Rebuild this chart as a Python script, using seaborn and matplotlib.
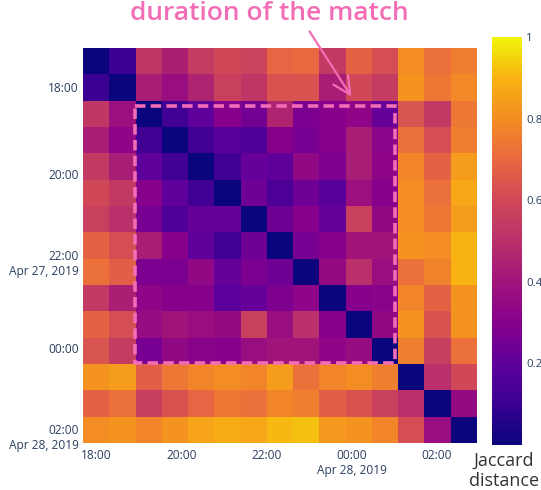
import numpy as np
import pandas as pd
import matplotlib
matplotlib.use("Agg")
import matplotlib.pyplot as plt
import seaborn as sns
from matplotlib.colors import LinearSegmentedColormap
from matplotlib.patches import Rectangle, FancyArrowPatch

# ---------------- data ----------------
x_times = ["2019-04-27 17:59", "2019-04-27 18:37", "2019-04-27 19:14", "2019-04-27 19:51",
           "2019-04-27 20:28", "2019-04-27 21:05", "2019-04-27 21:42", "2019-04-27 22:19",
           "2019-04-27 22:56", "2019-04-27 23:33", "2019-04-28 00:10", "2019-04-28 00:47",
           "2019-04-28 01:24", "2019-04-28 02:01", "2019-04-28 02:38"]
y_times = ["2019-04-27 17:25", "2019-04-27 18:01", "2019-04-27 18:37", "2019-04-27 19:14",
           "2019-04-27 19:50", "2019-04-27 20:26", "2019-04-27 21:02", "2019-04-27 21:39",
           "2019-04-27 22:15", "2019-04-27 22:51", "2019-04-27 23:27", "2019-04-28 00:04",
           "2019-04-28 00:40", "2019-04-28 01:16", "2019-04-28 01:52"]

distance = [
    [0.00, 0.10, 0.52, 0.44, 0.55, 0.60, 0.58, 0.69, 0.70, 0.54, 0.68, 0.62, 0.80, 0.72, 0.76],
    [0.10, 0.00, 0.43, 0.37, 0.46, 0.57, 0.52, 0.63, 0.63, 0.43, 0.60, 0.55, 0.82, 0.74, 0.79],
    [0.53, 0.38, 0.00, 0.12, 0.20, 0.30, 0.25, 0.46, 0.27, 0.30, 0.33, 0.22, 0.64, 0.54, 0.74],
    [0.43, 0.33, 0.12, 0.00, 0.12, 0.18, 0.16, 0.30, 0.26, 0.30, 0.43, 0.32, 0.72, 0.62, 0.76],
    [0.54, 0.43, 0.20, 0.12, 0.00, 0.12, 0.22, 0.20, 0.34, 0.28, 0.43, 0.33, 0.78, 0.68, 0.84],
    [0.60, 0.54, 0.30, 0.20, 0.12, 0.00, 0.24, 0.15, 0.24, 0.18, 0.38, 0.30, 0.80, 0.72, 0.87],
    [0.57, 0.50, 0.26, 0.16, 0.22, 0.22, 0.00, 0.24, 0.30, 0.22, 0.57, 0.34, 0.80, 0.74, 0.84],
    [0.68, 0.62, 0.43, 0.30, 0.20, 0.12, 0.24, 0.00, 0.26, 0.30, 0.40, 0.40, 0.82, 0.80, 0.90],
    [0.72, 0.67, 0.27, 0.27, 0.34, 0.22, 0.27, 0.24, 0.00, 0.35, 0.50, 0.37, 0.72, 0.77, 0.90],
    [0.54, 0.44, 0.33, 0.30, 0.30, 0.19, 0.22, 0.28, 0.33, 0.00, 0.30, 0.31, 0.78, 0.68, 0.82],
    [0.68, 0.62, 0.36, 0.40, 0.37, 0.35, 0.57, 0.37, 0.50, 0.30, 0.00, 0.34, 0.82, 0.63, 0.82],
    [0.64, 0.55, 0.26, 0.34, 0.31, 0.30, 0.37, 0.40, 0.40, 0.33, 0.36, 0.00, 0.76, 0.56, 0.72],
    [0.82, 0.84, 0.67, 0.74, 0.78, 0.80, 0.78, 0.84, 0.72, 0.78, 0.80, 0.76, 0.00, 0.50, 0.60],
    [0.68, 0.72, 0.56, 0.63, 0.69, 0.74, 0.72, 0.78, 0.76, 0.67, 0.63, 0.57, 0.50, 0.00, 0.35],
    [0.80, 0.82, 0.78, 0.82, 0.86, 0.88, 0.87, 0.91, 0.92, 0.83, 0.82, 0.78, 0.62, 0.37, 0.00],
]

x_tick_times = ["2019-04-27 18:00", "2019-04-27 20:00", "2019-04-27 22:00",
                "2019-04-28 00:00", "2019-04-28 02:00"]
x_tick_labels = ["18:00", "20:00", "22:00", "00:00\nApr 28, 2019", "02:00"]
y_tick_times = ["2019-04-27 18:00", "2019-04-27 20:00", "2019-04-27 22:00",
                "2019-04-28 00:00", "2019-04-28 02:00"]
y_tick_labels = ["18:00", "20:00", "22:00\nApr 27, 2019", "00:00", "02:00\nApr 28, 2019"]

# match window (cells, start/end index) and annotation
match_start, match_end = 2, 12
annotation_text = "duration of the match"
cbar_ticks = [0.2, 0.4, 0.6, 0.8, 1.0]
cbar_ticklabels = ["0.2", "0.4", "0.6", "0.8", "1"]

# ---------------- style ----------------
plt.rcParams["font.family"] = ["Open Sans", "DejaVu Sans"]
PINK = "#f26db5"
TICK_COLOR = "#2a3f5f"

anchors = [(10, 5, 125), (58, 0, 145), (95, 0, 155), (135, 0, 140), (160, 20, 122),
           (185, 48, 106), (208, 72, 88), (232, 104, 64), (244, 140, 36),
           (248, 178, 18), (240, 245, 10)]
cmap = LinearSegmentedColormap.from_list(
    "bmy_like", [tuple(c / 255 for c in a) for a in anchors])

W, H = 541, 490
fig = plt.figure(figsize=(W / 100, H / 100), dpi=100)
ax = fig.add_axes([83 / W, 1 - 443 / H, 394 / W, 395 / H])
cax = fig.add_axes([492 / W, 1 - 445 / H, 30 / W, 408 / H])

df = pd.DataFrame(distance, index=y_times, columns=x_times)
sns.heatmap(df, ax=ax, cmap=cmap, vmin=0, vmax=1, cbar_ax=cax,
            xticklabels=False, yticklabels=False)
ax.set_xlabel("")
ax.set_ylabel("")


def tick_positions(times, ticks):
    t = pd.to_datetime(pd.Series(times)).astype("int64").to_numpy() / 6e10
    tk = pd.to_datetime(pd.Series(ticks)).astype("int64").to_numpy() / 6e10
    coef = np.polyfit(t, np.arange(len(times)) + 0.5, 1)
    return np.polyval(coef, tk)


ax.set_xticks(tick_positions(x_times, x_tick_times))
ax.set_xticklabels(x_tick_labels, fontsize=8.6, color=TICK_COLOR, rotation=0,
                   ha="center", linespacing=1.25)
ax.set_yticks(tick_positions(y_times, y_tick_times))
ax.set_yticklabels(y_tick_labels, fontsize=8.6, color=TICK_COLOR, rotation=0,
                   ha="right", linespacing=1.2)
ax.tick_params(axis="both", length=0)
ax.tick_params(axis="x", pad=4)
ax.tick_params(axis="y", pad=3)
for s in ax.spines.values():
    s.set_visible(False)

# dashed match rectangle
rect = Rectangle((match_start - 0.02, match_start + 0.2),
                 (match_end - match_start) - 0.1, (match_end - match_start) - 0.25,
                 fill=False, edgecolor=PINK, lw=2.6, linestyle=(0, (2.9, 1.45)),
                 zorder=5, clip_on=False)
ax.add_patch(rect)

# colorbar styling
cbar = ax.collections[0].colorbar
cbar.outline.set_visible(False)
cbar.set_ticks(cbar_ticks)
cbar.set_ticklabels(cbar_ticklabels)
cax.tick_params(length=0, labelsize=8.2, labelcolor=TICK_COLOR, pad=3)

fig.text(504 / W, 1 - 461 / H, "Jaccard", ha="center", va="center",
         fontsize=13, color="#333333")
fig.text(504 / W, 1 - 481 / H, "distance", ha="center", va="center",
         fontsize=13, color="#333333")

# annotation
fig.text(269 / W, 1 - 13 / H, annotation_text, ha="center", va="center",
         fontsize=19, color=PINK, fontweight="semibold")
fig.add_artist(FancyArrowPatch(
    (308 / W, 1 - 29 / H), (353 / W, 1 - 99 / H), transform=fig.transFigure,
    arrowstyle="->,head_length=0.7,head_width=0.35", color=PINK, lw=1.6,
    mutation_scale=18))

fig.savefig("out.png", dpi=100)
